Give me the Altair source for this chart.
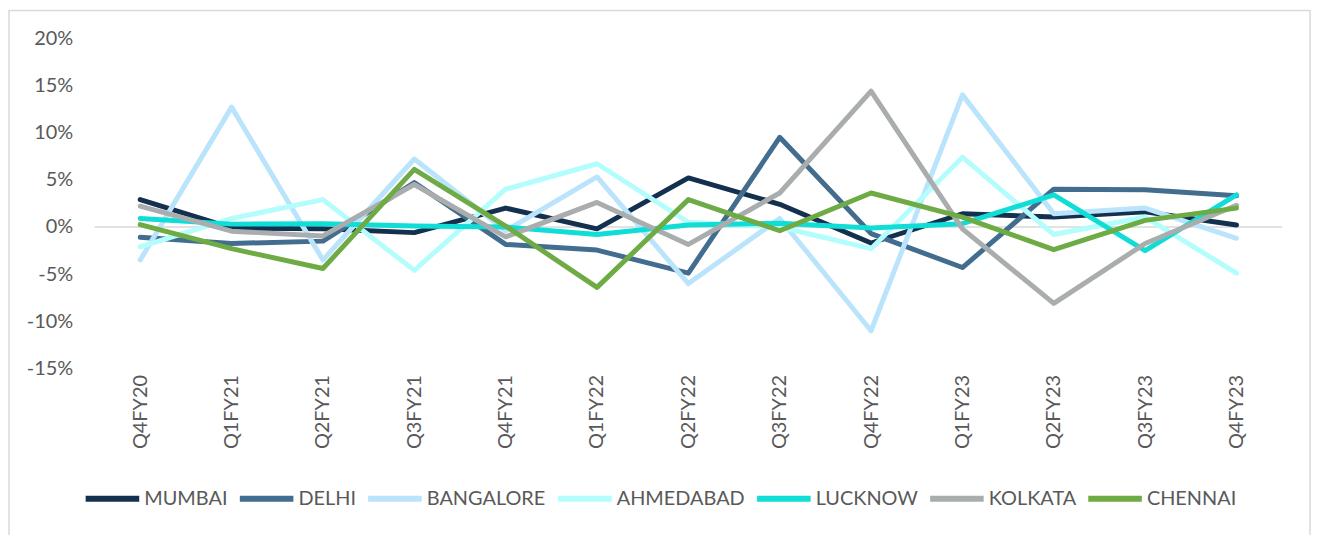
import altair as alt
import pandas as pd

quarters = ["Q4FY20", "Q1FY21", "Q2FY21", "Q3FY21", "Q4FY21", "Q1FY22", "Q2FY22",
            "Q3FY22", "Q4FY22", "Q1FY23", "Q2FY23", "Q3FY23", "Q4FY23"]

cities = ["MUMBAI", "DELHI", "BANGALORE", "AHMEDABAD", "LUCKNOW", "KOLKATA", "CHENNAI"]
colors = ["#13304f", "#426d8f", "#b9e4fb", "#b3fdfd", "#10ded6", "#a9adae", "#6eab45"]

mumbai    = [2.9, -0.1, -0.2, -0.6, 2.0, -0.2, 5.2, 2.4, -1.7, 1.4, 1.05, 1.6, 0.2]
delhi     = [-1.1, -1.75, -1.5, 4.7, -1.85, -2.45, -4.9, 9.5, -0.7, -4.3, 4.0, 3.95, 3.3]
bangalore = [-3.5, 12.7, -3.5, 7.2, -0.4, 5.3, -6.0, 0.9, -11.0, 14.0, 1.4, 2.0, -1.2]
ahmedabad = [-2.1, 0.9, 2.9, -4.6, 4.0, 6.7, 0.5, 0.0, -2.3, 7.4, -0.8, 1.05, -4.9]
lucknow   = [0.9, 0.3, 0.35, 0.1, 0.0, -0.8, 0.2, 0.4, -0.1, 0.35, 3.4, -2.5, 3.4]
kolkata   = [2.2, -0.45, -0.95, 4.5, -1.05, 2.6, -1.85, 3.6, 14.4, -0.2, -8.1, -1.75, 2.3]
chennai   = [0.25, -2.3, -4.4, 6.1, 0.1, -6.4, 2.9, -0.4, 3.6, 1.05, -2.4, 0.7, 2.0]

series = [mumbai, delhi, bangalore, ahmedabad, lucknow, kolkata, chennai]
y_ticks = [-0.15, -0.10, -0.05, 0.0, 0.05, 0.10, 0.15, 0.20]

rows = []
for ci, (city, vals) in enumerate(zip(cities, series)):
    for q, v in zip(quarters, vals):
        rows.append({"city": city, "order": ci, "quarter": q, "value": v / 100.0})
df = pd.DataFrame(rows)

FONT = "Lato"
GREY_TXT = "#595959"

frame = alt.Chart(pd.DataFrame({"k": [0]})).mark_rect(
    fillOpacity=0, stroke="#d9d9d9", strokeWidth=1.5, clip=False
).encode(
    x=alt.value(-86), x2=alt.value(1222), y=alt.value(-28), y2=alt.value(520)
)

zero = alt.Chart(pd.DataFrame({"v": [0.0]})).mark_rule(
    color="#d9d9d9", strokeWidth=1.5
).encode(
    y=alt.Y("v:Q", scale=alt.Scale(domain=[-0.15, 0.20], nice=False))
)

lines = alt.Chart(df).mark_line(
    strokeWidth=5, strokeCap="round", strokeJoin="round"
).encode(
    x=alt.X("quarter:N", sort=quarters, title=None,
            scale=alt.Scale(paddingInner=0, paddingOuter=0.5),
            axis=alt.Axis(labelAngle=-90, domain=False, ticks=False,
                          labelFont=FONT, labelFontSize=20, labelColor=GREY_TXT,
                          labelPadding=6, labelAlign="right", labelBaseline="middle")),
    y=alt.Y("value:Q", title=None,
            scale=alt.Scale(domain=[-0.15, 0.20], nice=False, zero=False),
            axis=alt.Axis(values=y_ticks, format=".0%", domain=False, ticks=False,
                          grid=False, labelFont=FONT, labelFontSize=20,
                          labelColor=GREY_TXT, labelPadding=22,
                          labelExpr="replace(datum.label, '\u2212', '-')")),
    color=alt.Color("city:N", sort=cities,
                    scale=alt.Scale(domain=cities, range=colors),
                    legend=alt.Legend(
                        title=None, orient="none", direction="horizontal",
                        legendX=-12, legendY=433,
                        symbolType="stroke", symbolSize=2900, symbolStrokeWidth=6,
                        labelFont=FONT, labelFontSize=20, labelColor=GREY_TXT,
                        labelOffset=2, columnPadding=0)),
    order=alt.Order("order:Q"),
    detail="city:N",
)

chart = alt.layer(frame, zero, lines).properties(
    width=1194, height=332,
    autosize=alt.AutoSizeParams(type="none"),
    padding={"left": 87, "top": 29, "right": 32, "bottom": 170},
    background="white",
).configure_view(stroke=None)

chart.save("out.html", embed_options={"renderer": "svg", "actions": False})
